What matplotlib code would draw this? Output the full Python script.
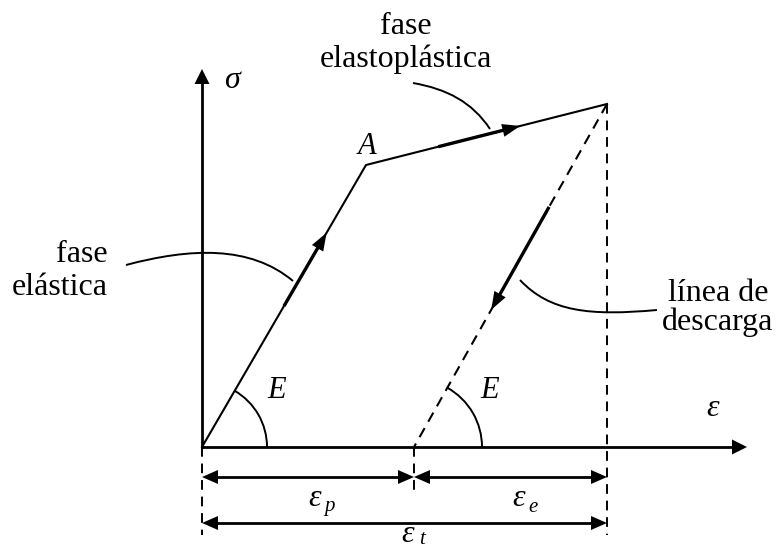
import numpy as np
import matplotlib.pyplot as plt
from matplotlib.patches import Polygon, Arc, PathPatch
from matplotlib.path import Path

plt.rcParams['font.family'] = ['Liberation Serif', 'DejaVu Serif']

# curve points (strain, stress) in drawing units
origin = (0, 0)
point_A = (164, 282)
peak = (405, 343)
eps_p = 212
eps_t = 405
sigma_top = 378
eps_end = 545

# arrow positions along each branch (fraction of segment) and shaft start
elastic_arrow = (0.76, 0.50)
plastic_arrow = (0.64, 0.30)
unload_arrow = (0.60, 0.30)

labels_phase = ['fase\nelastoplástica', 'fase\nelástica', 'línea de\ndescarga']

FS = 23
LW = 1.5


def head(ax, tip, direction, length=16, width=14):
    d = np.array(direction, float)
    d = d / np.hypot(*d)
    n = np.array([-d[1], d[0]])
    tip = np.array(tip, float)
    base = tip - d * length
    pts = [tip, base + n * width / 2, base - n * width / 2]
    ax.add_patch(Polygon(pts, closed=True, color='black', lw=0))


def along(p0, p1, t):
    p0 = np.array(p0, float)
    p1 = np.array(p1, float)
    return p0 + (p1 - p0) * t


def branch_arrow(ax, p0, p1, t_tip, t_start):
    tip = along(p0, p1, t_tip)
    start = along(p0, p1, t_start)
    d = np.array(p1, float) - np.array(p0, float)
    back = tip - d / np.hypot(*d) * 10
    ax.plot([start[0], back[0]], [start[1], back[1]], color='black', lw=2.4,
            solid_capstyle='butt')
    head(ax, tip, d, length=18, width=13)


def leader(ax, pts):
    codes = [Path.MOVETO, Path.CURVE4, Path.CURVE4, Path.CURVE4]
    ax.add_patch(PathPatch(Path(pts, codes), fc='none', ec='black', lw=1.4))


fig = plt.figure(figsize=(7.77, 5.49), dpi=100)
ax = fig.add_axes([0, 0, 1, 1])
ax.set_xlim(-202, 575)
ax.set_ylim(-102, 447)
ax.set_aspect('equal')
ax.axis('off')

# axes
ax.plot([0, 0], [0, sigma_top - 14], color='black', lw=2)
head(ax, (0, sigma_top), (0, 1), length=15, width=15)
ax.plot([0, eps_end - 14], [0, 0], color='black', lw=2)
head(ax, (eps_end, 0), (1, 0), length=15, width=15)

# loading path O -> A -> peak
ax.plot([origin[0], point_A[0], peak[0]], [origin[1], point_A[1], peak[1]],
        color='black', lw=LW, solid_joinstyle='miter')
# unloading path
ax.plot([peak[0], eps_p], [peak[1], 0], color='black', lw=LW, ls=(0, (5, 3.5)))

branch_arrow(ax, origin, point_A, *elastic_arrow)
branch_arrow(ax, point_A, peak, *plastic_arrow)
branch_arrow(ax, peak, (eps_p, 0), *unload_arrow)

# dashed guides
dash = (0, (5, 3.5))
ax.plot([eps_t, eps_t], [peak[1], -88], color='black', lw=1.4, ls=dash)
ax.plot([0, 0], [0, -88], color='black', lw=1.4, ls=dash)
ax.plot([eps_p, eps_p], [0, -45], color='black', lw=1.4, ls=dash)

# angle arcs
ang1 = np.degrees(np.arctan2(point_A[1], point_A[0]))
ang2 = np.degrees(np.arctan2(peak[1], peak[0] - eps_p))
ax.add_patch(Arc((0, 0), 130, 130, theta1=0, theta2=ang1, color='black', lw=1.4))
ax.add_patch(Arc((eps_p, 0), 136, 136, theta1=0, theta2=ang2, color='black', lw=1.4))
ax.text(75, 57, 'E', fontsize=22, style='italic', ha='center', va='center')
ax.text(288, 57, 'E', fontsize=22, style='italic', ha='center', va='center')


# dimension arrows
def dim(ax, x0, x1, y):
    ax.plot([x0 + 12, x1 - 12], [y, y], color='black', lw=2)
    head(ax, (x0, y), (-1, 0))
    head(ax, (x1, y), (1, 0))


dim(ax, 0, eps_p, -30)
dim(ax, eps_p, eps_t, -30)
dim(ax, 0, eps_t, -76)


def eps_label(ax, x, y, sub, drop=8):
    ax.text(x, y, 'ε', fontsize=FS, style='italic', ha='center', va='center')
    ax.text(x + 14, y - drop, sub, fontsize=15, style='italic', ha='center',
            va='center')


eps_label(ax, 113, -52, 'p')
eps_label(ax, 317, -52, 'e')
eps_label(ax, 206, -87, 't', drop=5)

# axis labels and point A
ax.text(30, 367, 'σ', fontsize=FS, style='italic', ha='center', va='center')
ax.text(511, 39, 'ε', fontsize=FS, style='italic', ha='center', va='center')
ax.text(165, 300, 'A', fontsize=22, style='italic', ha='center', va='center')

# phase labels with leaders
ax.text(204, 404, labels_phase[0], fontsize=FS, ha='center', va='center',
        linespacing=1.15)
leader(ax, [(211, 364), (245, 358), (270, 345), (288, 318)])

ax.text(-94, 176, labels_phase[1], fontsize=FS, ha='right', va='center',
        multialignment='right', linespacing=1.2)
leader(ax, [(-76, 182), (-12, 199), (48, 202), (91, 166)])

ax.text(516, 139, labels_phase[2], fontsize=FS, ha='center', va='center',
        linespacing=1.0)
leader(ax, [(318, 167), (348, 135), (388, 131), (455, 137)])

fig.savefig('out.png', dpi=100)
